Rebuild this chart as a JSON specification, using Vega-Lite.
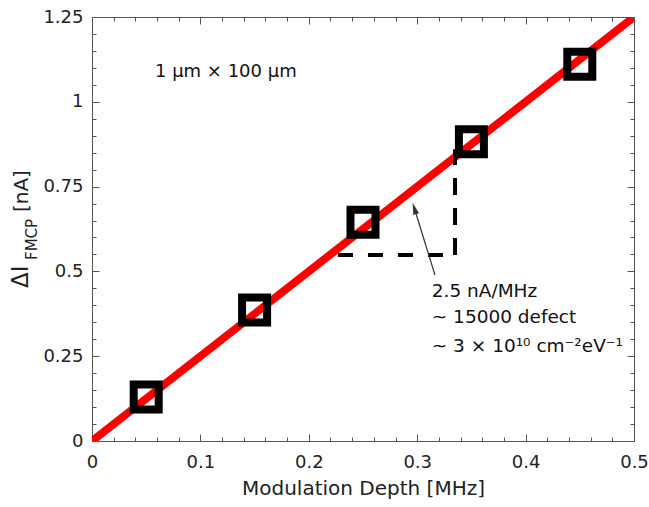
{
  "$schema": "https://vega.github.io/schema/vega-lite/v6.json",
  "width": 542,
  "height": 424,
  "autosize": {"type": "none"},
  "padding": {"left": 92, "top": 17, "right": 15, "bottom": 66},
  "background": "white",
  "config": {
    "view": {"stroke": "#555", "strokeWidth": 1},
    "font": "DejaVu Sans",
    "axis": {
      "grid": false,
      "domain": false,
      "tickColor": "#555",
      "tickWidth": 1,
      "labelColor": "#222",
      "labelFont": "DejaVu Sans",
      "labelFontSize": 18,
      "labelFlush": false,
      "titleFont": "DejaVu Sans",
      "titleFontSize": 20,
      "titleFontWeight": "normal",
      "titleColor": "#222"
    }
  },
  "resolve": {"axis": {"x": "independent", "y": "independent"}},
  "layer": [
    {
      "data": {"values": [{"x": 0, "y": 0}, {"x": 0.5, "y": 1.25}]},
      "mark": {"type": "line", "color": "#ff0000", "strokeWidth": 8, "clip": true},
      "encoding": {
        "x": {"field": "x", "type": "quantitative", "scale": {"domain": [0, 0.5], "nice": false},
          "axis": {"orient": "bottom", "values": [0, 0.1, 0.2, 0.3, 0.4, 0.5], "format": ".2~f", "tickSize": -7, "labelPadding": 19, "title": "Modulation Depth [MHz]", "titlePadding": 7}},
        "y": {"field": "y", "type": "quantitative", "scale": {"domain": [0, 1.25], "nice": false},
          "axis": {"orient": "left", "values": [0, 0.25, 0.5, 0.75, 1, 1.25], "format": ".2~f", "tickSize": -7, "labelPadding": 16, "title": null}}
      }
    },
    {
      "data": {"values": [{"x": 0.2269, "x2": 0.3349, "y": 0.5484}]},
      "mark": {"type": "rule", "color": "#000", "strokeWidth": 4, "strokeDash": [15, 15]},
      "encoding": {
        "x": {"field": "x", "type": "quantitative", "scale": {"domain": [0, 0.5], "nice": false},
          "axis": {"orient": "top", "values": [0, 0.1, 0.2, 0.3, 0.4, 0.5], "tickSize": -7, "labels": false, "title": null}},
        "x2": {"field": "x2"},
        "y": {"field": "y", "type": "quantitative", "scale": {"domain": [0, 1.25], "nice": false},
          "axis": {"orient": "right", "values": [0, 0.25, 0.5, 0.75, 1, 1.25], "tickSize": -7, "labels": false, "title": null}}
      }
    },
    {
      "data": {"values": [{"x": 0.3349, "y": 0.5484, "y2": 0.86}]},
      "mark": {"type": "rule", "color": "#000", "strokeWidth": 4, "strokeDash": [17, 13]},
      "encoding": {
        "x": {"field": "x", "type": "quantitative", "scale": {"domain": [0, 0.5], "nice": false},
          "axis": {"orient": "top", "values": [0.02, 0.04, 0.06, 0.08, 0.12, 0.14, 0.16, 0.18, 0.22, 0.24, 0.26, 0.28, 0.32, 0.34, 0.36, 0.38, 0.42, 0.44, 0.46, 0.48], "tickSize": -4, "labels": false, "title": null}},
        "y": {"field": "y", "type": "quantitative", "scale": {"domain": [0, 1.25], "nice": false},
          "axis": {"orient": "right", "values": [0.05, 0.1, 0.15, 0.2, 0.3, 0.35, 0.4, 0.45, 0.55, 0.6, 0.65, 0.7, 0.8, 0.85, 0.9, 0.95, 1.05, 1.1, 1.15, 1.2], "tickSize": -4, "labels": false, "title": null}},
        "y2": {"field": "y2"}
      }
    },
    {
      "data": {"values": [
        {"x": 0.05, "y": 0.13},
        {"x": 0.15, "y": 0.386},
        {"x": 0.25, "y": 0.645},
        {"x": 0.35, "y": 0.882},
        {"x": 0.45, "y": 1.111}
      ]},
      "mark": {"type": "point", "shape": "square", "filled": false, "stroke": "#000", "strokeWidth": 8, "size": 625, "opacity": 1},
      "encoding": {
        "x": {"field": "x", "type": "quantitative", "scale": {"domain": [0, 0.5], "nice": false},
          "axis": {"orient": "bottom", "values": [0.02, 0.04, 0.06, 0.08, 0.12, 0.14, 0.16, 0.18, 0.22, 0.24, 0.26, 0.28, 0.32, 0.34, 0.36, 0.38, 0.42, 0.44, 0.46, 0.48], "tickSize": -4, "labels": false, "title": null}},
        "y": {"field": "y", "type": "quantitative", "scale": {"domain": [0, 1.25], "nice": false},
          "axis": {"orient": "left", "values": [0.05, 0.1, 0.15, 0.2, 0.3, 0.35, 0.4, 0.45, 0.55, 0.6, 0.65, 0.7, 0.8, 0.85, 0.9, 0.95, 1.05, 1.1, 1.15, 1.2], "tickSize": -4, "labels": false, "title": null}}
      }
    },
    {
      "data": {"values": [{"x": 0.3164, "y": 0.4894, "x2": 0.2978, "y2": 0.6816}]},
      "mark": {"type": "rule", "color": "#333", "strokeWidth": 1.2},
      "encoding": {
        "x": {"field": "x", "type": "quantitative", "scale": {"domain": [0, 0.5], "nice": false}, "axis": null},
        "y": {"field": "y", "type": "quantitative", "scale": {"domain": [0, 1.25], "nice": false}, "axis": null},
        "x2": {"field": "x2"},
        "y2": {"field": "y2"}
      }
    },
    {
      "data": {"values": [{"x": 0.2978, "y": 0.6816}]},
      "mark": {"type": "point", "shape": "M0,-1L0.4,0.6L-0.4,0.6Z", "filled": true, "color": "#333", "size": 225, "angle": 343, "opacity": 1},
      "encoding": {
        "x": {"field": "x", "type": "quantitative", "scale": {"domain": [0, 0.5], "nice": false}, "axis": null},
        "y": {"field": "y", "type": "quantitative", "scale": {"domain": [0, 1.25], "nice": false}, "axis": null}
      }
    },
    {
      "data": {"values": [
        {"x": 0.3134, "y": 0.4236, "label": "2.5 nA/MHz"},
        {"x": 0.3134, "y": 0.347, "label": "~ 15000 defect"},
        {"x": 0.3134, "y": 0.2633, "label": "~ 3 × 10¹⁰ cm⁻²eV⁻¹"}
      ]},
      "mark": {"type": "text", "align": "left", "baseline": "alphabetic", "fontSize": 18.5, "color": "#111"},
      "encoding": {
        "x": {"field": "x", "type": "quantitative", "scale": {"domain": [0, 0.5], "nice": false}, "axis": null},
        "y": {"field": "y", "type": "quantitative", "scale": {"domain": [0, 1.25], "nice": false}, "axis": null},
        "text": {"field": "label"}
      }
    },
    {
      "data": {"values": [{"x": 0.0581, "y": 1.0731, "label": "1 μm × 100 μm"}]},
      "mark": {"type": "text", "align": "left", "baseline": "alphabetic", "fontSize": 18, "color": "#111"},
      "encoding": {
        "x": {"field": "x", "type": "quantitative", "scale": {"domain": [0, 0.5], "nice": false}, "axis": null},
        "y": {"field": "y", "type": "quantitative", "scale": {"domain": [0, 1.25], "nice": false}, "axis": null},
        "text": {"field": "label"}
      }
    },
    {
      "data": {"values": [{"x": -0.059, "y": 0.451, "label": "ΔI"}]},
      "mark": {"type": "text", "align": "left", "baseline": "alphabetic", "fontSize": 23, "angle": 270, "color": "#222"},
      "encoding": {
        "x": {"field": "x", "type": "quantitative", "scale": {"domain": [0, 0.5], "nice": false}, "axis": null},
        "y": {"field": "y", "type": "quantitative", "scale": {"domain": [0, 1.25], "nice": false}, "axis": null},
        "text": {"field": "label"}
      }
    },
    {
      "data": {"values": [{"x": -0.059, "y": 0.675, "label": "[nA]"}]},
      "mark": {"type": "text", "align": "left", "baseline": "alphabetic", "fontSize": 20, "angle": 270, "color": "#222"},
      "encoding": {
        "x": {"field": "x", "type": "quantitative", "scale": {"domain": [0, 0.5], "nice": false}, "axis": null},
        "y": {"field": "y", "type": "quantitative", "scale": {"domain": [0, 1.25], "nice": false}, "axis": null},
        "text": {"field": "label"}
      }
    },
    {
      "data": {"values": [{"x": -0.0507, "y": 0.5336, "label": "FMCP"}]},
      "mark": {"type": "text", "align": "left", "baseline": "alphabetic", "fontSize": 15, "angle": 270, "color": "#222"},
      "encoding": {
        "x": {"field": "x", "type": "quantitative", "scale": {"domain": [0, 0.5], "nice": false}, "axis": null},
        "y": {"field": "y", "type": "quantitative", "scale": {"domain": [0, 1.25], "nice": false}, "axis": null},
        "text": {"field": "label"}
      }
    }
  ]
}
